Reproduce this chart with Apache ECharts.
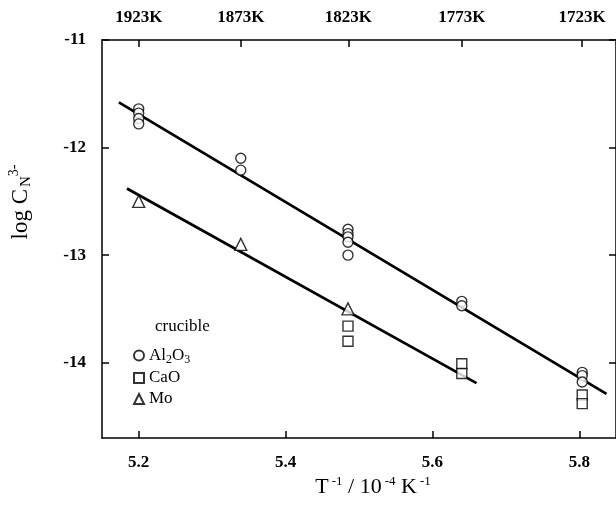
<!DOCTYPE html>
<html>
<head>
<meta charset="utf-8">
<script src="https://cdn.jsdelivr.net/npm/echarts@6/dist/echarts.min.js"></script>
<style>
  html, body { margin: 0; padding: 0; background: #fff; }
  #chart { width: 616px; height: 519px; }
</style>
</head>
<body>
<div id="chart"></div>
<script>
// x = 10^4 / T, y = log C_N3-
const al2o3 = [
  [5.200, -11.64], [5.200, -11.68], [5.200, -11.73], [5.200, -11.78],
  [5.339, -12.10], [5.339, -12.21],
  [5.485, -12.76], [5.485, -12.80], [5.485, -12.83], [5.485, -12.88], [5.485, -13.00],
  [5.640, -13.43], [5.640, -13.47],
  [5.804, -14.09], [5.804, -14.12], [5.804, -14.18]
]
const cao = [
  [5.485, -13.66], [5.485, -13.80],
  [5.640, -14.01], [5.640, -14.10],
  [5.804, -14.30], [5.804, -14.38]
]
const mo = [
  [5.200, -12.50], [5.339, -12.90], [5.485, -13.50]
]
// fitted lines (end points)
const fitAl = [[5.173, -11.58], [5.837, -14.29]]
const fitMo = [[5.184, -12.38], [5.660, -14.19]]

const xTicks = [5.2, 5.4, 5.6, 5.8]
const yTicks = [-14, -13, -12, -11]
const topTemps = [1923, 1873, 1823, 1773, 1723]

const serif = '"Liberation Serif", "DejaVu Serif", serif'
const chart = echarts.init(document.getElementById('chart'))

const axisCommon = {
  type: 'value',
  axisLine: { show: true, onZero: false, lineStyle: { color: '#000', width: 1.5 } },
  axisTick: { show: true, inside: true, length: 7, lineStyle: { color: '#000', width: 1.5 } },
  splitLine: { show: false },
  axisLabel: { color: '#000', fontFamily: serif, fontWeight: 'bold', fontSize: 17 }
}

function hollow(name, data, symbol, size) {
  return {
    name, type: 'scatter', data, symbol, symbolSize: size,
    itemStyle: { color: '#fff', borderColor: '#000', borderWidth: 1.4 },
    z: 3
  }
}
function fitLine(data) {
  return {
    type: 'line', data, symbol: 'none', silent: true,
    lineStyle: { color: '#000', width: 2.8 }, z: 2
  }
}

const option = {
  animation: false,
  grid: { left: 102, right: -5, top: 40, bottom: 81 },
  xAxis: [
    {
      ...axisCommon, position: 'bottom', min: 5.15, max: 5.85,
      axisTick: { ...axisCommon.axisTick, customValues: xTicks },
      axisLabel: { ...axisCommon.axisLabel, margin: 16, customValues: xTicks, formatter: v => v.toFixed(1) }
    },
    {
      ...axisCommon, position: 'top', min: 5.15, max: 5.85,
      axisTick: { ...axisCommon.axisTick, customValues: topTemps.map(t => 1e4 / t) },
      axisLabel: {
        ...axisCommon.axisLabel, margin: 14,
        customValues: topTemps.map(t => 1e4 / t),
        formatter: v => Math.round(1e4 / v) + 'K'
      }
    }
  ],
  yAxis: [
    {
      ...axisCommon, position: 'left', min: -14.7, max: -11,
      axisTick: { ...axisCommon.axisTick, customValues: yTicks },
      axisLabel: { ...axisCommon.axisLabel, margin: 16, customValues: yTicks }
    },
    {
      ...axisCommon, position: 'right', min: -14.7, max: -11,
      axisTick: { ...axisCommon.axisTick, customValues: yTicks },
      axisLabel: { show: false }
    }
  ],
  legend: {
    orient: 'vertical', left: 128, top: 342,
    data: ['Al2O3', 'CaO', 'Mo'],
    itemWidth: 10, itemHeight: 10, itemGap: 4,
    selectedMode: false,
    formatter: n => n === 'Al2O3' ? 'Al{sub|2}O{sub|3}' : n,
    textStyle: {
      color: '#000', fontFamily: serif, fontSize: 17,
      rich: { sub: { fontFamily: serif, fontSize: 12, verticalAlign: 'bottom', padding: [8, 0, 0, 0] } }
    }
  },
  graphic: [
    {
      type: 'text', left: 155, top: 318,
      style: { text: 'crucible', font: '17px ' + serif, fill: '#000' }
    },
    {
      type: 'text', x: 373, y: 487,
      style: {
        text: 'T{sup|-1} / 10{sup|-4} K{sup|-1}',
        fill: '#000', align: 'center', verticalAlign: 'middle',
        font: '22px ' + serif,
        rich: { sup: { fontFamily: serif, fontSize: 13, padding: [0, 0, 11, 3] } }
      }
    },
    {
      type: 'text', x: 21, y: 202, rotation: Math.PI / 2,
      style: {
        text: 'log C{sub|N}{sup|3-}',
        fill: '#000', align: 'center', verticalAlign: 'middle',
        font: '23px ' + serif,
        rich: {
          sub: { fontFamily: serif, fontSize: 15, padding: [11, 0, 0, 2] },
          sup: { fontFamily: serif, fontSize: 14, padding: [0, 0, 13, 0] }
        }
      }
    }
  ],
  series: [
    fitLine(fitAl),
    fitLine(fitMo),
    hollow('Al2O3', al2o3, 'circle', 10),
    hollow('CaO', cao, 'rect', 10),
    hollow('Mo', mo, 'triangle', 12)
  ]
}

chart.setOption(option)
</script>
</body>
</html>
